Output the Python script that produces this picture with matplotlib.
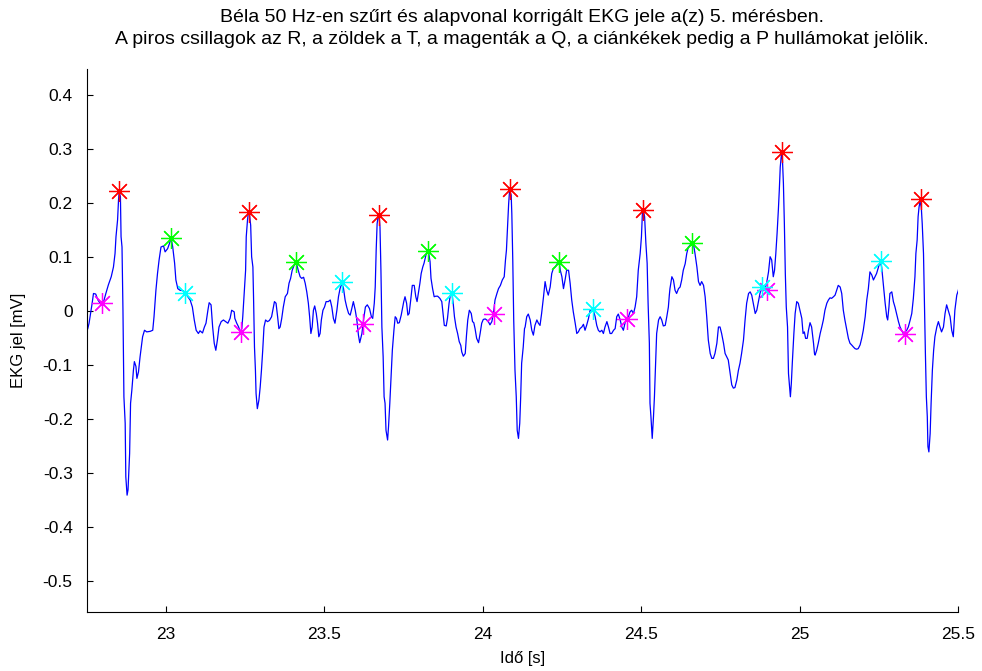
import numpy as np
import matplotlib
matplotlib.use("Agg")
import matplotlib.pyplot as plt

# EKG jel (50 Hz szűrés + alapvonal korrekció után), 5. mérés
ido = [
    22.754, 22.758, 22.767, 22.772, 22.779, 22.786, 22.793, 22.804, 22.811, 22.819,
    22.828, 22.835, 22.840, 22.843, 22.848, 22.851, 22.853, 22.857, 22.859, 22.862,
    22.865, 22.868, 22.872, 22.874, 22.878, 22.881, 22.886, 22.889, 22.893, 22.898,
    22.901, 22.906, 22.909, 22.914, 22.919, 22.927, 22.933, 22.940, 22.951, 22.959,
    22.963, 22.969, 22.974, 22.979, 22.985, 22.993, 22.998, 23.006, 23.012, 23.017,
    23.022, 23.028, 23.032, 23.038, 23.045, 23.056, 23.066, 23.077, 23.084, 23.090,
    23.096, 23.103, 23.108, 23.116, 23.122, 23.127, 23.133, 23.137, 23.143, 23.148,
    23.153, 23.158, 23.163, 23.168, 23.175, 23.182, 23.189, 23.196, 23.203, 23.208,
    23.216, 23.218, 23.224, 23.230, 23.235, 23.240, 23.243, 23.247, 23.252, 23.254,
    23.258, 23.261, 23.264, 23.268, 23.271, 23.275, 23.277, 23.280, 23.283, 23.285,
    23.289, 23.294, 23.298, 23.302, 23.306, 23.310, 23.315, 23.321, 23.327, 23.334,
    23.338, 23.343, 23.348, 23.353, 23.357, 23.361, 23.366, 23.371, 23.377, 23.384,
    23.389, 23.394, 23.399, 23.405, 23.411, 23.418, 23.424, 23.429, 23.435, 23.440,
    23.445, 23.450, 23.454, 23.458, 23.462, 23.466, 23.470, 23.475, 23.479, 23.483,
    23.487, 23.491, 23.496, 23.501, 23.506, 23.513, 23.519, 23.524, 23.529, 23.534,
    23.540, 23.545, 23.550, 23.556, 23.561, 23.566, 23.571, 23.577, 23.582, 23.587,
    23.592, 23.598, 23.603, 23.608, 23.612, 23.619, 23.624, 23.630, 23.636, 23.643,
    23.649, 23.653, 23.658, 23.661, 23.664, 23.667, 23.670, 23.673, 23.676, 23.679,
    23.682, 23.686, 23.689, 23.692, 23.695, 23.700, 23.703, 23.707, 23.711, 23.715,
    23.720, 23.724, 23.728, 23.732, 23.737, 23.743, 23.747, 23.751, 23.755, 23.760,
    23.764, 23.768, 23.773, 23.778, 23.784, 23.789, 23.793, 23.797, 23.802, 23.806,
    23.811, 23.815, 23.821, 23.826, 23.830, 23.834, 23.837, 23.842, 23.847, 23.852,
    23.858, 23.865, 23.871, 23.875, 23.879, 23.885, 23.889, 23.894, 23.898, 23.903,
    23.907, 23.911, 23.916, 23.921, 23.926, 23.931, 23.934, 23.939, 23.945, 23.949,
    23.953, 23.958, 23.964, 23.968, 23.972, 23.976, 23.981, 23.987, 23.992, 23.997,
    24.002, 24.008, 24.013, 24.018, 24.023, 24.029, 24.034, 24.039, 24.045, 24.050,
    24.056, 24.062, 24.068, 24.072, 24.075, 24.079, 24.082, 24.085, 24.090, 24.092,
    24.095, 24.098, 24.102, 24.106, 24.109, 24.113, 24.117, 24.120, 24.123, 24.128,
    24.132, 24.134, 24.139, 24.144, 24.150, 24.155, 24.160, 24.165, 24.171, 24.176,
    24.181, 24.186, 24.192, 24.197, 24.202, 24.207, 24.213, 24.218, 24.223, 24.229,
    24.236, 24.241, 24.245, 24.250, 24.255, 24.260, 24.265, 24.271, 24.276, 24.281,
    24.286, 24.292, 24.297, 24.302, 24.307, 24.313, 24.318, 24.323, 24.328, 24.334,
    24.339, 24.344, 24.349, 24.355, 24.360, 24.365, 24.370, 24.376, 24.381, 24.386,
    24.392, 24.397, 24.402, 24.407, 24.413, 24.418, 24.423, 24.428, 24.434, 24.439,
    24.444, 24.449, 24.455, 24.460, 24.465, 24.470, 24.476, 24.481, 24.486, 24.491,
    24.497, 24.501, 24.504, 24.507, 24.511, 24.515, 24.519, 24.522, 24.526, 24.528,
    24.531, 24.535, 24.539, 24.542, 24.545, 24.549, 24.555, 24.560, 24.565, 24.570,
    24.576, 24.581, 24.586, 24.589, 24.591, 24.597, 24.602, 24.607, 24.612, 24.618,
    24.623, 24.628, 24.633, 24.639, 24.644, 24.649, 24.654, 24.660, 24.665, 24.670,
    24.676, 24.681, 24.686, 24.691, 24.697, 24.702, 24.707, 24.712, 24.718, 24.723,
    24.728, 24.733, 24.739, 24.744, 24.749, 24.754, 24.760, 24.765, 24.770, 24.775,
    24.781, 24.786, 24.791, 24.796, 24.802, 24.807, 24.812, 24.817, 24.823, 24.828,
    24.833, 24.839, 24.844, 24.849, 24.854, 24.860, 24.865, 24.870, 24.875, 24.881,
    24.886, 24.891, 24.896, 24.902, 24.907, 24.912, 24.917, 24.921, 24.925, 24.929,
    24.933, 24.936, 24.939, 24.943, 24.946, 24.949, 24.952, 24.955, 24.958, 24.962,
    24.965, 24.968, 24.971, 24.974, 24.977, 24.982, 24.986, 24.991, 24.996, 25.001,
    25.007, 25.011, 25.015, 25.019, 25.024, 25.028, 25.033, 25.038, 25.044, 25.047,
    25.049, 25.054, 25.059, 25.065, 25.070, 25.075, 25.080, 25.086, 25.091, 25.096,
    25.101, 25.107, 25.112, 25.117, 25.122, 25.128, 25.133, 25.138, 25.143, 25.149,
    25.154, 25.159, 25.164, 25.170, 25.175, 25.180, 25.185, 25.191, 25.196, 25.201,
    25.207, 25.212, 25.217, 25.222, 25.228, 25.233, 25.238, 25.243, 25.249, 25.254,
    25.259, 25.264, 25.270, 25.275, 25.278, 25.282, 25.285, 25.291, 25.296, 25.301,
    25.306, 25.312, 25.317, 25.322, 25.327, 25.333, 25.338, 25.343, 25.349, 25.354,
    25.359, 25.364, 25.367, 25.371, 25.374, 25.377, 25.380, 25.384, 25.387, 25.391,
    25.394, 25.397, 25.400, 25.403, 25.405, 25.408, 25.412, 25.415, 25.419, 25.423,
    25.427, 25.433, 25.438, 25.443, 25.448, 25.454, 25.459, 25.464, 25.469, 25.475,
    25.480, 25.485, 25.490, 25.496, 25.501, 25.506,
]
ekg = [
    -0.033, -0.023, 0.011, 0.032, 0.031, 0.020, 0.014, 0.017, 0.032, 0.048,
    0.063, 0.081, 0.106, 0.137, 0.168, 0.205, 0.220, 0.211, 0.137, 0.118,
    0.001, -0.159, -0.208, -0.307, -0.341, -0.331, -0.264, -0.171, -0.147, -0.110,
    -0.094, -0.103, -0.125, -0.113, -0.085, -0.048, -0.036, -0.039, -0.038, -0.036,
    -0.011, 0.038, 0.069, 0.094, 0.118, 0.120, 0.109, 0.115, 0.125, 0.134,
    0.118, 0.088, 0.057, 0.041, 0.038, 0.037, 0.029, 0.020, 0.007, -0.017,
    -0.036, -0.042, -0.037, -0.041, -0.030, -0.023, 0.001, 0.015, 0.011, -0.030,
    -0.060, -0.073, -0.054, -0.030, -0.020, -0.017, -0.020, -0.023, -0.014, 0.001,
    -0.002, -0.014, -0.023, -0.030, -0.039, -0.033, -0.011, 0.026, 0.075, 0.137,
    0.168, 0.183, 0.180, 0.158, 0.100, 0.081, 0.026, -0.067, -0.110, -0.153,
    -0.181, -0.165, -0.141, -0.110, -0.073, -0.030, -0.017, -0.020, -0.018, -0.011,
    0.001, 0.017, 0.014, -0.011, -0.033, -0.030, -0.014, 0.007, 0.026, 0.032,
    0.051, 0.060, 0.075, 0.084, 0.091, 0.075, 0.063, 0.060, 0.062, 0.051,
    0.035, 0.014, -0.011, -0.042, -0.030, 0.001, 0.009, -0.005, -0.023, -0.048,
    -0.042, -0.017, 0.001, 0.007, 0.017, 0.017, 0.020, 0.007, -0.014, -0.023,
    0.001, 0.026, 0.041, 0.051, 0.041, 0.020, 0.007, -0.005, -0.008, 0.004,
    0.017, 0.001, -0.017, -0.045, -0.059, -0.042, -0.017, 0.007, 0.011, 0.004,
    -0.011, -0.014, 0.014, 0.044, 0.112, 0.161, 0.174, 0.177, 0.155, 0.075,
    -0.030, -0.085, -0.159, -0.171, -0.221, -0.239, -0.214, -0.171, -0.122, -0.073,
    -0.036, -0.011, -0.014, -0.023, -0.022, -0.008, 0.004, 0.017, 0.026, 0.014,
    -0.008, -0.005, 0.020, 0.047, 0.047, 0.026, 0.017, 0.032, 0.051, 0.069,
    0.081, 0.088, 0.103, 0.110, 0.106, 0.091, 0.060, 0.041, 0.026, 0.027,
    0.027, 0.023, 0.017, -0.005, -0.027, -0.028, -0.014, 0.014, 0.029, 0.032,
    0.014, -0.011, -0.030, -0.042, -0.057, -0.064, -0.076, -0.084, -0.079, -0.045,
    -0.017, 0.001, -0.005, -0.020, -0.022, -0.033, -0.051, -0.059, -0.042, -0.023,
    -0.016, -0.015, -0.017, -0.020, -0.026, -0.020, -0.005, 0.020, 0.032, 0.041,
    0.047, 0.057, 0.063, 0.094, 0.112, 0.161, 0.198, 0.223, 0.214, 0.180,
    0.094, -0.017, -0.110, -0.159, -0.221, -0.236, -0.208, -0.159, -0.097, -0.067,
    -0.033, -0.030, -0.011, -0.006, -0.017, -0.036, -0.045, -0.027, -0.017, -0.023,
    -0.027, -0.005, 0.026, 0.054, 0.038, 0.029, 0.044, 0.069, 0.078, 0.081,
    0.088, 0.091, 0.075, 0.063, 0.041, 0.057, 0.075, 0.075, 0.051, 0.020,
    -0.002, -0.023, -0.042, -0.039, -0.033, -0.030, -0.025, -0.036, -0.027, -0.014,
    0.001, 0.001, 0.001, -0.011, -0.027, -0.036, -0.039, -0.036, -0.042, -0.030,
    -0.020, -0.030, -0.042, -0.042, -0.036, -0.033, -0.011, -0.006, -0.017, -0.030,
    -0.036, -0.023, -0.014, -0.011, -0.002, 0.001, -0.005, 0.007, 0.026, 0.075,
    0.106, 0.137, 0.180, 0.186, 0.174, 0.125, 0.088, 0.014, -0.060, -0.171,
    -0.196, -0.236, -0.196, -0.159, -0.110, -0.042, -0.017, -0.011, -0.017, -0.028,
    -0.027, -0.011, 0.007, 0.029, 0.041, 0.063, 0.057, 0.038, 0.032, 0.041,
    0.044, 0.057, 0.075, 0.087, 0.106, 0.118, 0.121, 0.128, 0.124, 0.106,
    0.081, 0.054, 0.047, 0.054, 0.047, 0.026, -0.011, -0.054, -0.079, -0.088,
    -0.088, -0.079, -0.060, -0.030, -0.030, -0.042, -0.060, -0.079, -0.085, -0.091,
    -0.116, -0.137, -0.143, -0.142, -0.128, -0.110, -0.097, -0.079, -0.054, -0.017,
    0.014, 0.032, 0.035, 0.029, 0.014, -0.005, 0.001, 0.017, 0.032, 0.044,
    0.038, 0.041, 0.051, 0.072, 0.100, 0.094, 0.063, 0.075, 0.106, 0.143,
    0.186, 0.223, 0.266, 0.291, 0.279, 0.235, 0.161, 0.069, 0.007, -0.030,
    -0.116, -0.137, -0.159, -0.134, -0.097, -0.042, -0.005, 0.017, 0.014, 0.001,
    -0.014, -0.042, -0.039, -0.051, -0.051, -0.036, -0.022, -0.030, -0.060, -0.079,
    -0.082, -0.073, -0.060, -0.042, -0.030, -0.017, 0.001, 0.014, 0.020, 0.024,
    0.023, 0.026, 0.029, 0.038, 0.047, 0.044, 0.032, 0.001, -0.017, -0.036,
    -0.051, -0.060, -0.063, -0.067, -0.070, -0.071, -0.070, -0.063, -0.051, -0.036,
    -0.011, 0.020, 0.041, 0.072, 0.066, 0.057, 0.063, 0.069, 0.081, 0.091,
    0.081, 0.051, 0.014, -0.011, -0.017, 0.007, 0.032, 0.035, 0.017, 0.007,
    -0.005, -0.020, -0.030, -0.036, -0.042, -0.039, -0.036, -0.030, -0.017, -0.005,
    0.023, 0.063, 0.106, 0.131, 0.174, 0.192, 0.202, 0.192, 0.161, 0.106,
    0.014, -0.079, -0.159, -0.196, -0.251, -0.261, -0.227, -0.171, -0.110, -0.073,
    -0.048, -0.030, -0.020, -0.030, -0.039, -0.030, -0.005, 0.011, 0.001, -0.011,
    -0.036, -0.048, 0.001, 0.029, 0.038, 0.054,
]

# detektált hullámok (idő [s], amplitúdó [mV])
r_ido = [22.851, 23.263, 23.673, 24.087, 24.507, 24.943, 25.383]
r_ert = [0.222, 0.183, 0.177, 0.226, 0.186, 0.294, 0.206]
t_ido = [23.017, 23.411, 23.826, 24.241, 24.662]
t_ert = [0.134, 0.091, 0.110, 0.091, 0.126]
q_ido = [22.800, 23.238, 23.622, 24.036, 24.455, 24.896, 25.333]
q_ert = [0.015, -0.039, -0.024, -0.006, -0.015, 0.039, -0.042]
p_ido = [23.061, 23.556, 23.903, 24.347, 24.881, 25.256]
p_ert = [0.032, 0.054, 0.032, 0.003, 0.044, 0.092]

x_tick = [23, 23.5, 24, 24.5, 25, 25.5]
x_tick_cimke = ['23', '23.5', '24', '24.5', '25', '25.5']
y_tick = [-0.5, -0.4, -0.3, -0.2, -0.1, 0, 0.1, 0.2, 0.3, 0.4]
y_tick_cimke = ['-0.5', '-0.4', '-0.3', '-0.2', '-0.1', '0', '0.1', '0.2', '0.3', '0.4']

cim1 = 'Béla 50 Hz-en szűrt és alapvonal korrigált EKG jele a(z) 5. mérésben.'
cim2 = 'A piros csillagok az R, a zöldek a T, a magenták a Q, a ciánkékek pedig a P hullámokat jelölik.'

plt.rcParams['font.family'] = ['Liberation Sans', 'DejaVu Sans']
plt.rcParams['axes.unicode_minus'] = False

fig = plt.figure(figsize=(9.82, 6.71), dpi=100)
ax = fig.add_axes([0.0881, 0.088, 0.8875, 0.809])

csillag = (8, 2, 0)
ax.plot(ido, ekg, color=(0, 0, 1), lw=0.9)
ax.plot(r_ido, r_ert, ls='none', marker=csillag, ms=15, mew=0.9, color=(1, 0, 0))
ax.plot(t_ido, t_ert, ls='none', marker=csillag, ms=15, mew=0.9, color=(0, 1, 0))
ax.plot(q_ido, q_ert, ls='none', marker=csillag, ms=15, mew=0.9, color=(1, 0, 1))
ax.plot(p_ido, p_ert, ls='none', marker=csillag, ms=15, mew=0.9, color=(0, 1, 1))

ax.set_xlim(22.75, 25.5)
ax.set_ylim(-0.557, 0.447)
ax.set_xticks(x_tick)
ax.set_xticklabels(x_tick_cimke)
ax.set_yticks(y_tick)
ax.set_yticklabels(y_tick_cimke)
ax.tick_params(direction='in', length=4, width=0.8, labelsize=12.5)
ax.tick_params(axis='x', pad=11)
ax.tick_params(axis='y', pad=10)

for s in ['top', 'right']:
    ax.spines[s].set_visible(False)
for s in ['left', 'bottom']:
    ax.spines[s].set_linewidth(0.8)

ax.set_xlabel('Idő [s]', fontsize=12, labelpad=6)
ax.set_ylabel('EKG jel [mV]', fontsize=12, labelpad=12)

# kétsoros cím a tengely közepe fölött
xc = 0.0881 + 0.8875 / 2
fig.text(xc, 1 - 17 / 671, cim1, ha='center', va='center', fontsize=14)
fig.text(xc, 1 - 40 / 671, cim2, ha='center', va='center', fontsize=14)

fig.savefig('out.png', dpi=100)
